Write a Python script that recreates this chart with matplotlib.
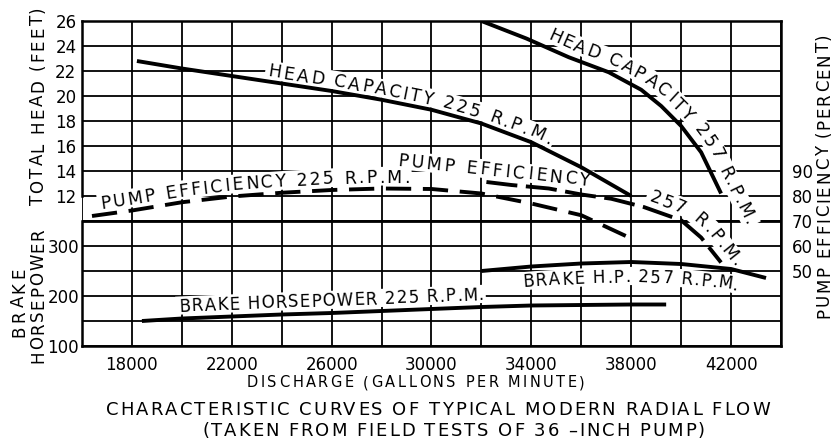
import numpy as np
import matplotlib
matplotlib.use('Agg')
import matplotlib.pyplot as plt
from matplotlib.font_manager import FontProperties

# ---------------- data ----------------
q_head225 = [18200, 20000, 22000, 24000, 26000, 28000, 30000, 32000, 34000, 36000, 38000]
head225 = [22.8, 22.2, 21.6, 21.0, 20.4, 19.7, 18.9, 17.8, 16.3, 14.3, 12.0]

q_head257 = [32000, 33800, 35500, 37100, 38400, 39200, 40000, 40800, 41600]
head257 = [26.0, 24.6, 23.1, 21.9, 20.5, 19.2, 17.6, 15.5, 12.2]

q_eff225 = [16400, 18000, 20000, 22000, 24000, 26000, 28000, 30000, 32000, 34000, 36000, 38000]
eff225 = [72.0, 74.2, 77.5, 79.8, 81.3, 82.4, 83.0, 82.8, 81.0, 77.0, 72.3, 63.0]

q_eff257 = [32200, 33200, 34700, 36000, 37200, 38500, 40000, 40800, 41600]
eff257 = [85.6, 84.4, 83.0, 80.6, 78.9, 75.6, 70.3, 63.4, 53.4]

q_bhp225 = [18400, 20000, 22000, 24000, 26000, 28000, 30000, 32000, 34000, 36000, 38000, 39400]
bhp225 = [150, 155, 159, 163, 166, 170, 174, 178, 181, 182, 183, 183]

q_bhp257 = [32000, 34000, 36000, 38000, 40000, 42000, 43400]
bhp257 = [250, 259, 265, 268, 264, 254, 236]

x_ticks = [18000, 22000, 26000, 30000, 34000, 38000, 42000]
head_ticks = [12, 14, 16, 18, 20, 22, 24, 26]
hp_ticks = [100, 200, 300]
eff_ticks = [50, 60, 70, 80, 90]

# ---------------- figure ----------------
W, H = 834, 444
fig = plt.figure(figsize=(W / 100, H / 100), dpi=100)
fig.patch.set_facecolor('white')
L, Rt, T, B = 82, 781, 21, 346
ax = fig.add_axes([L / W, 1 - B / H, (Rt - L) / W, (B - T) / H])
ax.set_xlim(16000, 44000)
ax.set_ylim(0, 26)
ax.set_xticks(x_ticks)
ax.set_xticklabels([str(v) for v in x_ticks])
ax.set_xticks(np.arange(16000, 44001, 2000), minor=True)
ax.set_yticks(head_ticks)
ax.set_yticklabels([str(v) for v in head_ticks])
ax.set_yticks(np.arange(0, 27, 2), minor=True)
ax.grid(which='both', color='black', lw=1.3)
ax.set_axisbelow(True)
ax.tick_params(which='both', length=0)
ax.tick_params(axis='x', pad=7, labelsize=12)
ax.tick_params(axis='y', pad=4, labelsize=12)
for sp in ['top', 'right', 'bottom']:
    ax.spines[sp].set_linewidth(1.8)
ax.spines['left'].set_visible(False)
ax.axvline(16000, ymin=12 / 26, ymax=1, color='black', lw=1.8, clip_on=False, zorder=2.5)
ax.axvline(16000, ymin=0, ymax=10 / 26, color='black', lw=1.8, clip_on=False, zorder=2.5)
ax.axhline(10, color='black', lw=2.0, zorder=1)

ax_hp = ax.twinx()
ax_hp.set_ylim(100, 750)
ax_hp.yaxis.tick_left()
ax_hp.set_yticks(hp_ticks)
ax_hp.set_yticklabels([str(v) for v in hp_ticks])
ax_hp.tick_params(length=0, pad=2, labelsize=12)
for sp in ax_hp.spines.values():
    sp.set_visible(False)

ax_eff = ax.twinx()
ax_eff.set_ylim(20, 150)
ax_eff.set_yticks(eff_ticks)
ax_eff.set_yticklabels([str(v) for v in eff_ticks])
ax_eff.tick_params(length=0, pad=8, labelsize=12)
for sp in ax_eff.spines.values():
    sp.set_visible(False)

# ---------------- curves ----------------
LW = 2.8
ax.plot(q_head225, head225, color='black', lw=LW, zorder=3, solid_capstyle='butt')
ax.plot(q_head257, head257, color='black', lw=LW, zorder=3, solid_capstyle='butt')
ax_eff.plot(q_eff225, eff225, color='black', lw=LW, dashes=(6.5, 3), dash_capstyle='butt')
ax_eff.plot(q_eff257, eff257, color='black', lw=LW, dashes=(8, 2.2), dash_capstyle='butt')
ax_hp.plot(q_bhp225, bhp225, color='black', lw=LW, solid_capstyle='butt')
ax_hp.plot(q_bhp257, bhp257, color='black', lw=LW, solid_capstyle='butt')

# ---------------- spaced / curved text helpers ----------------
REN = fig.canvas.get_renderer()
INV = fig.transFigure.inverted()


def advance(c, fp):
    w1 = REN.get_text_width_height_descent('H' + c + 'H', fp, ismath=False)[0]
    w0 = REN.get_text_width_height_descent('HH', fp, ismath=False)[0]
    return w1 - w0


def build(P):
    P = np.asarray(P, float)
    d0 = P[1] - P[0]
    d0 = d0 / np.hypot(*d0)
    d1 = P[-1] - P[-2]
    d1 = d1 / np.hypot(*d1)
    E = np.vstack([P[0] - 600 * d0, P, P[-1] + 600 * d1])
    s = np.r_[0, np.cumsum(np.hypot(*np.diff(E, axis=0).T))] - 600
    return E, s


def layout(text, E, s, s0, s1, size, offset=0.0, band=False, h=9):
    fp = FontProperties(family='DejaVu Sans', size=size)
    adv = np.array([advance(c, fp) for c in text])
    track = (s1 - s0 - adv.sum()) / max(len(text) - 1, 1)
    pos = s0

    def pt(t):
        return np.array([np.interp(t, s, E[:, 0]), np.interp(t, s, E[:, 1])])

    def frame(t):
        tv = pt(t + h) - pt(t - h)
        tv = tv / np.hypot(*tv)
        return tv, np.array([-tv[1], tv[0]])

    if band:
        cap = 0.73 * size * 100 / 72
        pts = []
        for t in np.arange(s0 - 3, s1 + 3.01, 1.0):
            _, nv = frame(t)
            pts.append(pt(t) + (offset + cap / 2) * nv)
        pts = INV.transform(np.array(pts))
        ax.plot(pts[:, 0], pts[:, 1], transform=fig.transFigure, color='white',
                lw=(cap + 6) * 0.72, solid_capstyle='butt', zorder=1.8, clip_on=False)

    for c, a in zip(text, adv):
        sc = pos + a / 2
        pos += a + track
        if c == ' ':
            continue
        tv, nv = frame(sc)
        xy = INV.transform(pt(sc) + offset * nv)
        ang = np.degrees(np.arctan2(tv[1], tv[0]))
        ax.text(xy[0], xy[1], c, transform=fig.transFigure, rotation=ang,
                rotation_mode='anchor', ha='center', va='baseline',
                fontproperties=fp, zorder=2)


def curve_label(text, axes, xs, ys, x0, x1, size, offset):
    P = axes.transData.transform(np.c_[xs, ys])
    E, s = build(P)
    X0 = axes.transData.transform((x0, ys[0]))[0]
    X1 = axes.transData.transform((x1, ys[0]))[0]
    s0 = np.interp(X0, E[:, 0], s)
    s1 = np.interp(X1, E[:, 0], s)
    layout(text, E, s, s0, s1, size, offset, band=True)


def pix(x, y):
    return (x, H - y)


def straight_label(text, p0, p1, size, band=False):
    P = np.array([pix(*p0), pix(*p1)], float)
    E, s = build(P)
    layout(text, E, s, 0.0, np.hypot(*(P[1] - P[0])), size, 0.0, band=band)


# ---------------- curve labels ----------------
curve_label('HEAD CAPACITY 225 R.P.M.', ax, q_head225, head225, 23400, 34600, 12.5, 5)
curve_label('HEAD CAPACITY 257 R.P.M.', ax, q_head257, head257, 34500, 42300, 12.5, 8)
curve_label('PUMP EFFICIENCY 225 R.P.M.', ax_eff, q_eff225, eff225, 16800, 29100, 12.5, 6)
straight_label('PUMP EFFICIENCY', (397, 166), (590, 186), 12.5, band=True)
curve_label('257 R.P.M.', ax_eff, q_eff257, eff257, 38600, 41900, 12.5, 7)
curve_label('BRAKE HORSEPOWER 225 R.P.M.', ax_hp, q_bhp225, bhp225, 19900, 32100, 12, 7)
curve_label('BRAKE H.P. 257 R.P.M.', ax_hp, q_bhp257, bhp257, 33600, 42400, 12, -20)

# ---------------- axis titles and caption ----------------
straight_label('TOTAL HEAD (FEET)', (43, 205), (43, 6), 12)
straight_label('BRAKE', (24, 337), (24, 268), 12)
straight_label('HORSEPOWER', (43, 363), (43, 228), 12)
straight_label('PUMP EFFICIENCY (PERCENT)', (829, 318), (829, 33), 12)
straight_label('DISCHARGE (GALLONS PER MINUTE)', (247, 387), (585, 387), 10.5)
straight_label('CHARACTERISTIC CURVES OF TYPICAL MODERN RADIAL FLOW', (106, 415), (770, 415), 13)
straight_label('(TAKEN FROM FIELD TESTS OF 36 \u2013INCH PUMP)', (202, 436), (705, 436), 13)

fig.savefig('out.png', dpi=100, facecolor='white')
